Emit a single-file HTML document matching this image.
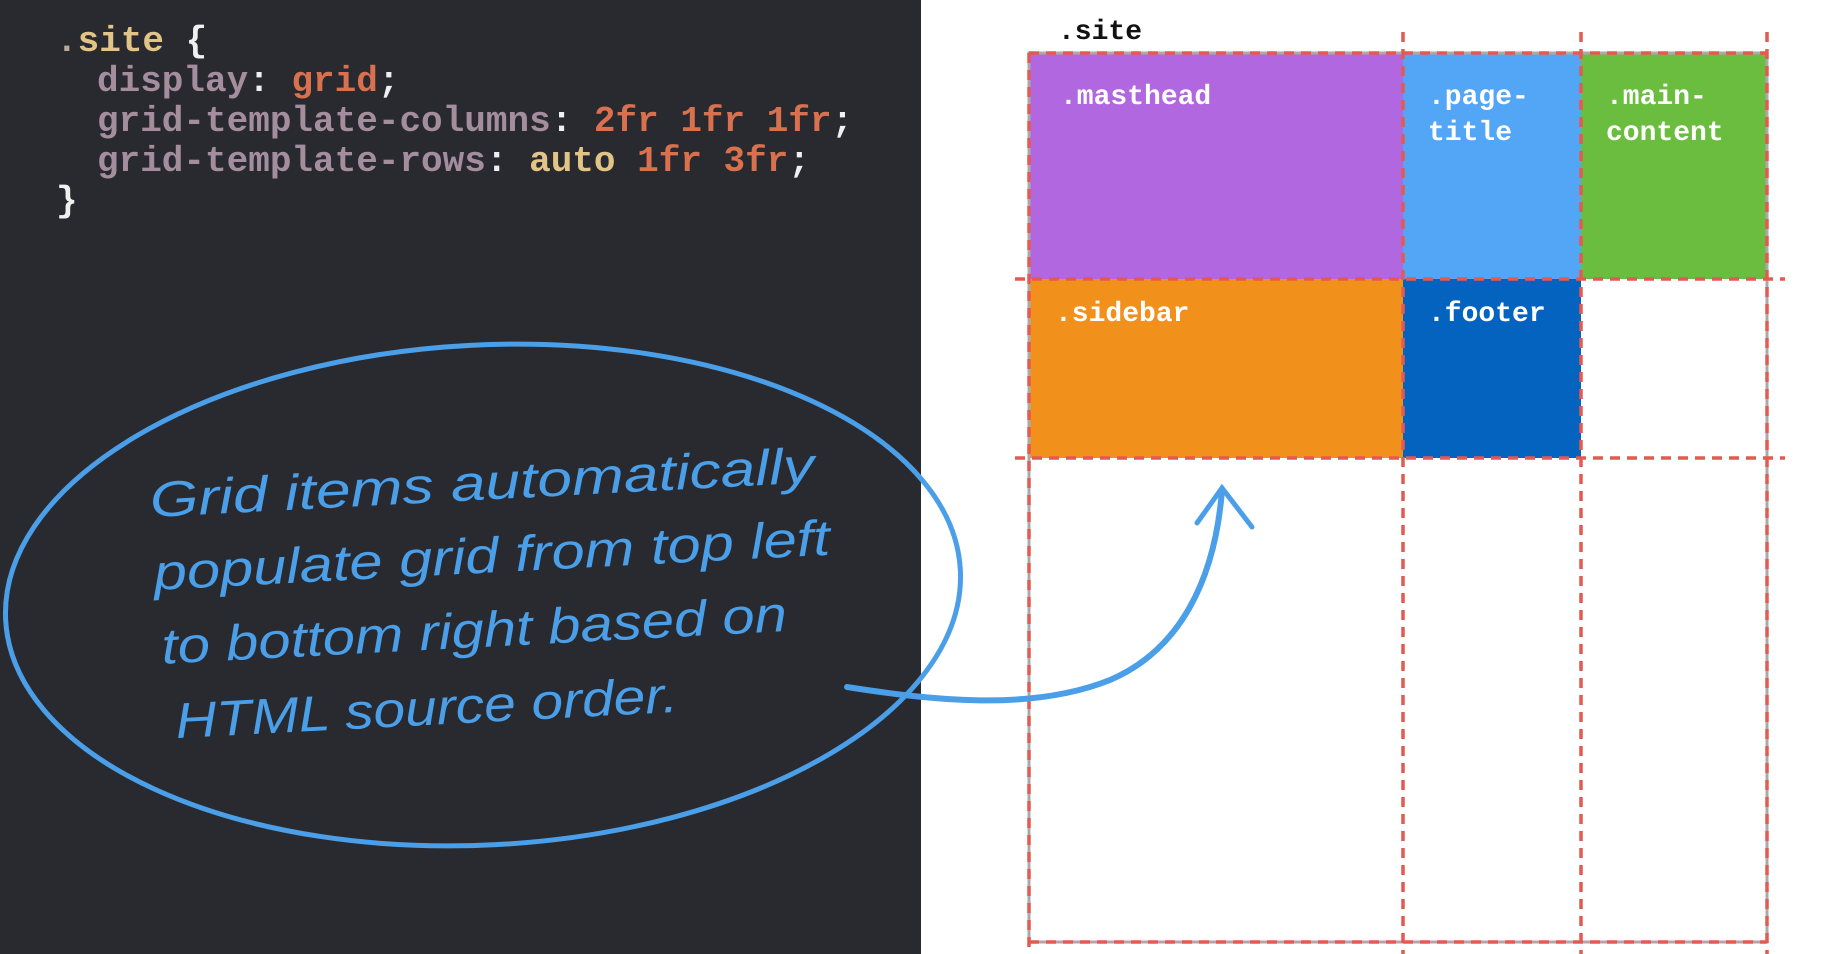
<!DOCTYPE html>
<html><head><meta charset="utf-8"><style>
html,body{margin:0;padding:0;width:1824px;height:954px;overflow:hidden;background:#fff}
svg{display:block}
</style></head><body>
<svg width="1824" height="954" viewBox="0 0 1824 954" xmlns="http://www.w3.org/2000/svg">
<rect x="0" y="0" width="921" height="954" fill="#282a30"/>
<g font-family="'Liberation Mono', monospace" font-weight="bold" font-size="36px">
<text x="56" y="51"><tspan fill="#b8a898">.</tspan><tspan fill="#e2c486">site</tspan><tspan fill="#f0f0f0"> {</tspan></text>
<text x="97" y="91"><tspan fill="#a48e9e">display</tspan><tspan fill="#f0f0f0">: </tspan><tspan fill="#d9714f">grid</tspan><tspan fill="#f0f0f0">;</tspan></text>
<text x="97" y="131"><tspan fill="#a48e9e">grid-template-columns</tspan><tspan fill="#f0f0f0">: </tspan><tspan fill="#d9714f">2fr 1fr 1fr</tspan><tspan fill="#f0f0f0">;</tspan></text>
<text x="97" y="171"><tspan fill="#a48e9e">grid-template-rows</tspan><tspan fill="#f0f0f0">: </tspan><tspan fill="#e2c486">auto </tspan><tspan fill="#d9714f">1fr 3fr</tspan><tspan fill="#f0f0f0">;</tspan></text>
<text x="56" y="211" fill="#f0f0f0">}</text>
</g>
<rect x="1029" y="53" width="374" height="226" fill="#b067e0"/>
<rect x="1403" y="53" width="178" height="226" fill="#52a6f5"/>
<rect x="1581" y="53" width="186" height="226" fill="#6bbd3f"/>
<rect x="1029" y="279" width="374" height="179" fill="#f2901c"/>
<rect x="1403" y="279" width="178" height="179" fill="#0463bf"/>
<rect x="1029" y="53" width="738" height="889" fill="none" stroke="#aaa" stroke-width="3"/>
<g stroke="#e45a50" stroke-width="3.5" stroke-dasharray="10 7" fill="none">
<line x1="1029" y1="53" x2="1767" y2="53"/>
<line x1="1015" y1="279" x2="1785" y2="279"/>
<line x1="1015" y1="458" x2="1785" y2="458"/>
<line x1="1029" y1="942" x2="1767" y2="942"/>
<line x1="1029" y1="53" x2="1029" y2="954"/>
<line x1="1403" y1="32" x2="1403" y2="954"/>
<line x1="1581" y1="32" x2="1581" y2="954"/>
<line x1="1767" y1="32" x2="1767" y2="954"/>
</g>
<g font-family="'Liberation Mono', monospace" font-weight="bold" font-size="28px" fill="#fff">
<text x="1058" y="39" fill="#111">.site</text>
<text x="1060" y="104">.masthead</text>
<text x="1428" y="104">.page-</text>
<text x="1428" y="140">title</text>
<text x="1606" y="104">.main-</text>
<text x="1606" y="140">content</text>
<text x="1055" y="321">.sidebar</text>
<text x="1428" y="321">.footer</text>
</g>
<ellipse cx="483" cy="595" rx="478" ry="250" transform="rotate(-3 483 595)" fill="none" stroke="#4a9fe8" stroke-width="5"/>
<path d="M847 687 C 930 700, 1030 712, 1110 680 C 1180 650, 1215 580, 1222 490" fill="none" stroke="#4a9fe8" stroke-width="6" stroke-linecap="round"/>
<path d="M1197 523 L1222 488 L1252 527" fill="none" stroke="#4a9fe8" stroke-width="5" stroke-linecap="round"/>
<g font-family="'Liberation Sans', sans-serif" font-style="italic" font-size="50px" fill="#4a9fe8" transform="rotate(-3 480 590)">
<text x="155" y="500" textLength="665" lengthAdjust="spacingAndGlyphs">Grid items automatically</text>
<text x="155" y="573" textLength="677" lengthAdjust="spacingAndGlyphs">populate grid from top left</text>
<text x="159" y="647" textLength="626" lengthAdjust="spacingAndGlyphs">to bottom right based on</text>
<text x="169" y="722" textLength="503" lengthAdjust="spacingAndGlyphs">HTML source order.</text>
</g>
</svg>
</body></html>
